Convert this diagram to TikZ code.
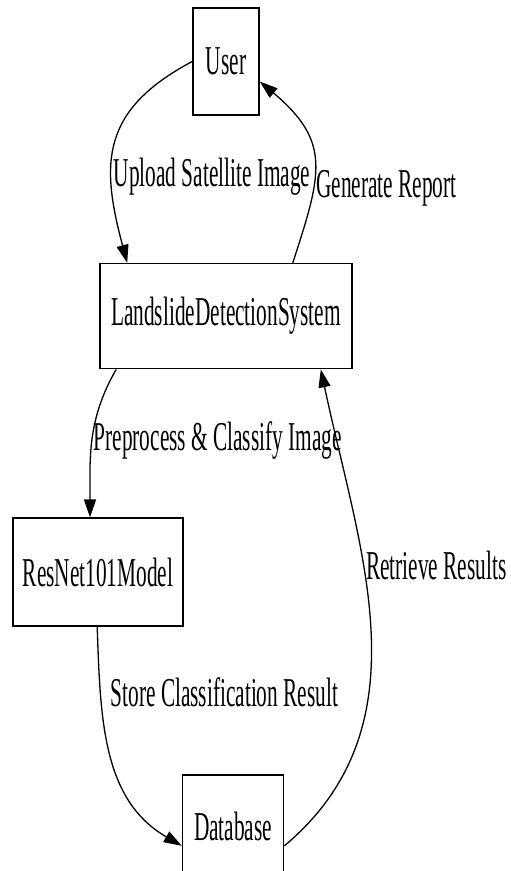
\documentclass[tikz,border=0pt]{standalone}
\usepackage{fontspec}
\setmainfont{Liberation Serif}[FakeStretch=0.52]
\usetikzlibrary{arrows.meta, positioning}

\begin{document}
\begin{tikzpicture}[
    x=1pt, y=-1pt,
    box/.style={
        rectangle, draw=black, line width=1.6pt,
        inner sep=0pt, align=center,
        font=\fontsize{41}{46}\selectfont
    },
    lbl/.style={
        inner sep=1pt, anchor=west,
        font=\fontsize{41}{46}\selectfont
    },
    arr/.style={-{Triangle[length=18pt,width=12pt]}, line width=1.3pt},
]
\useasboundingbox (0,0) rectangle (511,871);

% External entity: User
\node[box, minimum width=66pt, minimum height=107pt] (user) at (226,61.5) {User};

% Central system
\node[box, minimum width=252pt, minimum height=105pt, below=147pt of user] (ldsys) {LandslideDetectionSystem};

% Model (lower left)
\node[box, minimum width=170pt, minimum height=108pt,
      below=148pt of ldsys.south west, anchor=north west, xshift=-87pt] (resnet) {ResNet101Model};

% Database (bottom, cut by the page edge)
\node[box, minimum width=101pt, minimum height=104pt,
      below=147pt of resnet.south east, anchor=north west, xshift=-2pt] (db) {Database};

% User <-> system
\draw[arr] (user.west) to[out=208, in=105, looseness=1.25]
    node[lbl, pos=0.6, yshift=-14pt] {Upload Satellite Image}
    ([xshift=28pt]ldsys.north west);
\draw[arr] ([xshift=-60pt]ldsys.north east) to[out=72, in=-40, looseness=1.3]
    node[lbl, pos=0.42, yshift=-14pt] {Generate Report}
    ([yshift=-20pt]user.east);

% System -> model -> database
\draw[arr] ([xshift=17pt]ldsys.south west) to[out=240, in=90]
    node[lbl, pos=0.5] {Preprocess \& Classify Image}
    ([xshift=-8pt]resnet.north);
\draw[arr] ([xshift=85pt]resnet.south west) to[out=-88, in=150]
    node[lbl, pos=0.27, xshift=8pt, yshift=6pt] {Store Classification Result}
    ([yshift=-19pt]db.west);

% Database -> system
\draw[arr] ([yshift=-19pt]db.east) to[out=40, in=-78]
    node[lbl, pos=0.62, yshift=6pt] {Retrieve Results}
    ([xshift=-32pt]ldsys.south east);

\end{tikzpicture}
\end{document}
